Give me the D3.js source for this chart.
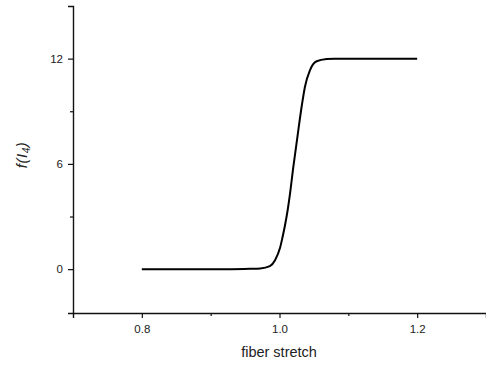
<!DOCTYPE html>
<html><head><meta charset="utf-8">
<script src="https://cdn.jsdelivr.net/npm/d3@7"></script>
<style>body{margin:0;background:#fff}svg{display:block}text{font-family:"Liberation Sans",Arial,sans-serif;fill:#222}</style>
</head><body><svg id="c" width="486" height="365"></svg>
<script>
const stretch = [0.80,0.85,0.90,0.93,0.957,0.972,0.986,0.9935,1.0007,1.004,1.008,1.012,1.0153,1.020,1.0259,1.0323,1.037,1.0443,1.054,1.0686,1.08,1.10,1.15,1.20];
const fVals   = [0,0,0,0,0.02,0.04,0.17,0.51,1.2,1.75,2.5,3.4,4.3,5.8,7.5,9.3,10.4,11.35,11.85,11.98,12,12,12,12];
const xMajor = [0.8,1.0,1.2], xMinor = [0.9,1.1];
const yMajor = [0,6,12], yMinor = [3,9];

const svg = d3.select("#c");
const x = d3.scaleLinear().domain([0.7,1.3]).range([73,486]);
const y = d3.scaleLinear().domain([-2.5,15]).range([313,6]);

// x axis
const gx = svg.append("g").attr("transform","translate(0,313)");
gx.call(d3.axisBottom(x).tickValues(xMajor).tickFormat(d3.format(".1f")).tickSizeOuter(0).tickSize(5).tickPadding(7));
gx.append("g").call(d3.axisBottom(x).tickValues(xMinor).tickFormat("").tickSize(3).tickSizeOuter(0)).select(".domain").remove();
// y axis
const gy = svg.append("g").attr("transform","translate(73,0)");
gy.call(d3.axisLeft(y).tickValues(yMajor).tickFormat(d3.format("d")).tickSizeOuter(0).tickSize(5).tickPadding(5));
gy.append("g").call(d3.axisLeft(y).tickValues(yMinor).tickFormat("").tickSize(3).tickSizeOuter(0)).select(".domain").remove();

svg.selectAll(".domain").attr("stroke","#111").attr("stroke-width",1.4);
svg.selectAll(".tick line").attr("stroke","#111").attr("stroke-width",1.2);
svg.selectAll(".tick text").attr("font-size",11.5).attr("font-family","Liberation Sans, Arial, sans-serif").attr("fill","#222");

// curve
const line = d3.line().x((d,i)=>x(stretch[i])).y(d=>y(d)).curve(d3.curveMonotoneX);
svg.append("path").datum(fVals).attr("d",line).attr("fill","none").attr("stroke","#000").attr("stroke-width",2);

// labels
svg.append("text").attr("x",279).attr("y",357).attr("text-anchor","middle").attr("font-size",14.5).text("fiber stretch");
const yl = svg.append("text").attr("transform","translate(27,155) rotate(-90)").attr("text-anchor","middle").attr("font-size",15).attr("font-style","italic").attr("letter-spacing",0.5);
yl.append("tspan").text("f(I");
yl.append("tspan").attr("font-size",10).attr("dy",3).text("4");
yl.append("tspan").attr("dy",-3).text(")");
</script></body></html>
